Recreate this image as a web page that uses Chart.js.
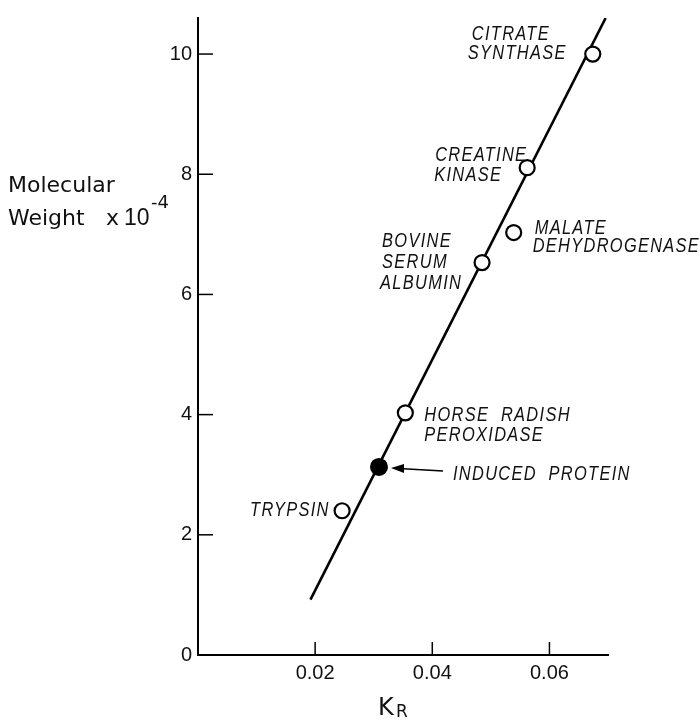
<!DOCTYPE html>
<html><head><meta charset="utf-8">
<script src="https://cdn.jsdelivr.net/npm/chart.js@4/dist/chart.umd.min.js"></script>
<style>html,body{margin:0;padding:0;background:#fff}#wrap{width:700px;height:720px;position:relative}</style>
</head><body><div id="wrap"><canvas id="c" width="700" height="720"></canvas></div>
<script>
// ---- data ----
const proteinNames = ['CITRATE SYNTHASE','CREATINE KINASE','MALATE DEHYDROGENASE','BOVINE SERUM ALBUMIN','HORSE RADISH PEROXIDASE','TRYPSIN'];
const proteinKr = [0.0674, 0.0562, 0.0539, 0.0485, 0.0354, 0.0246];
const proteinMw = [10.0, 8.11, 7.03, 6.53, 4.03, 2.40];
const inducedName = 'INDUCED  PROTEIN';
const inducedKr = [0.0309];
const inducedMw = [3.13];
const fitKr = [0.0192, 0.0696];
const fitMw = [0.92, 10.6];
const xTickValues = [0.02, 0.04, 0.06];
const yTickValues = [0, 2, 4, 6, 8, 10];

// ---- label layout (pixel offsets from each point) ----
const labelLines = [['CITRATE','SYNTHASE'],['CREATINE','KINASE'],['MALATE','DEHYDROGENASE'],['BOVINE','SERUM','ALBUMIN'],['HORSE  RADISH','PEROXIDASE'],['TRYPSIN']];
const labelOffsets = [
  [[-121,-14],[-125,5]],
  [[-92,-7],[-93,13]],
  [[21,1],[19,19]],
  [[-100,-16],[-100,5],[-102,26]],
  [[19,8],[19,28]],
  [[-92,5]]
];
const inducedOffset = [74, 13];

const labelFont = 'italic 20px "Liberation Sans", Arial, sans-serif';
function drawLabel(ctx, text, x, y){
  ctx.save();
  ctx.translate(x, y);
  ctx.scale(0.82, 1);
  ctx.font = labelFont;
  ctx.letterSpacing = '1.6px';
  ctx.fillStyle = '#111';
  ctx.textAlign = 'left';
  ctx.textBaseline = 'alphabetic';
  ctx.fillText(text, 0, 0);
  ctx.restore();
}

const annotate = {
  id: 'annotate',
  afterDraw(chart){
    const ctx = chart.ctx, xs = chart.scales.x, ys = chart.scales.y;
    const x0 = xs.getPixelForValue(0), y0 = ys.getPixelForValue(0);
    ctx.save();
    ctx.strokeStyle = '#000'; ctx.lineWidth = 1.5;
    // inward ticks
    yTickValues.forEach(v => { if (v === 0) return; const py = ys.getPixelForValue(v); ctx.beginPath(); ctx.moveTo(x0, py); ctx.lineTo(x0 + 15, py); ctx.stroke(); });
    xTickValues.forEach(v => { const px = xs.getPixelForValue(v); ctx.beginPath(); ctx.moveTo(px, y0); ctx.lineTo(px, y0 - 13); ctx.stroke(); });
    // point labels
    proteinKr.forEach((k, i) => {
      const px = xs.getPixelForValue(k), py = ys.getPixelForValue(proteinMw[i]);
      labelLines[i].forEach((t, j) => drawLabel(ctx, t, px + labelOffsets[i][j][0], py + labelOffsets[i][j][1]));
    });
    // induced protein arrow + label
    const ix = xs.getPixelForValue(inducedKr[0]), iy = ys.getPixelForValue(inducedMw[0]);
    const tipX = ix + 12, tipY = iy + 1, tailX = ix + 64, tailY = iy + 4;
    ctx.lineWidth = 1.5;
    ctx.beginPath(); ctx.moveTo(tailX, tailY); ctx.lineTo(tipX + 8, tipY + 0.5); ctx.stroke();
    ctx.fillStyle = '#000';
    ctx.beginPath(); ctx.moveTo(tipX, tipY); ctx.lineTo(tipX + 13, tipY - 4); ctx.lineTo(tipX + 13, tipY + 5); ctx.closePath(); ctx.fill();
    drawLabel(ctx, inducedName, ix + inducedOffset[0], iy + inducedOffset[1]);
    // axis titles
    ctx.fillStyle = '#111';
    ctx.textAlign = 'left'; ctx.textBaseline = 'alphabetic';
    ctx.font = '22px "DejaVu Sans", sans-serif';
    ctx.fillText('Molecular', 8, 192);
    ctx.fillText('Weight', 8, 225);
    ctx.fillText('x', 106, 225);
    ctx.font = '23px "Liberation Sans", sans-serif';
    ctx.fillText('10', 124, 225);
    ctx.font = '18px "DejaVu Sans", sans-serif';
    ctx.fillText('-4', 151, 208);
    ctx.font = '24px "DejaVu Sans", sans-serif';
    ctx.fillText('K', 378, 715);
    ctx.font = '17px "DejaVu Sans", sans-serif';
    ctx.fillText('R', 396, 717);
    ctx.restore();
  }
};

new Chart(document.getElementById('c'), {
  type: 'scatter',
  data: {
    datasets: [
      { type: 'line', data: fitKr.map((x, i) => ({x, y: fitMw[i]})), borderColor: '#000', borderWidth: 2.6, pointRadius: 0, fill: false, order: 3 },
      { data: proteinKr.map((x, i) => ({x, y: proteinMw[i]})), pointRadius: 7.5, pointBorderWidth: 2.2, pointBackgroundColor: '#fff', pointBorderColor: '#000', order: 1 },
      { data: inducedKr.map((x, i) => ({x, y: inducedMw[i]})), pointRadius: 9, pointBorderWidth: 0, pointBackgroundColor: '#000', pointBorderColor: '#000', order: 2 }
    ]
  },
  options: {
    responsive: false, animation: false, devicePixelRatio: 1,
    layout: { padding: { top: 6, right: 92, left: 0, bottom: 0 } },
    plugins: { legend: { display: false }, tooltip: { enabled: false } },
    scales: {
      x: {
        type: 'linear', min: 0, max: 0.07,
        afterBuildTicks: s => { s.ticks = xTickValues.map(v => ({ value: v })); },
        afterFit: s => { s.height = 65; },
        grid: { drawOnChartArea: false, drawTicks: false },
        border: { display: true, color: '#000', width: 2 },
        ticks: { color: '#111', padding: 6, font: { family: '"Liberation Sans", Arial, sans-serif', size: 20 }, maxRotation: 0, callback: v => v.toFixed(2) }
      },
      y: {
        type: 'linear', min: 0, max: 10.6,
        afterBuildTicks: s => { s.ticks = yTickValues.map(v => ({ value: v })); },
        afterFit: s => { s.width = 198; },
        grid: { drawOnChartArea: false, drawTicks: false },
        border: { display: true, color: '#000', width: 2 },
        ticks: { color: '#111', padding: 6, font: { family: '"Liberation Sans", Arial, sans-serif', size: 20 }, callback: v => String(v) }
      }
    }
  },
  plugins: [annotate]
});
</script></body></html>
